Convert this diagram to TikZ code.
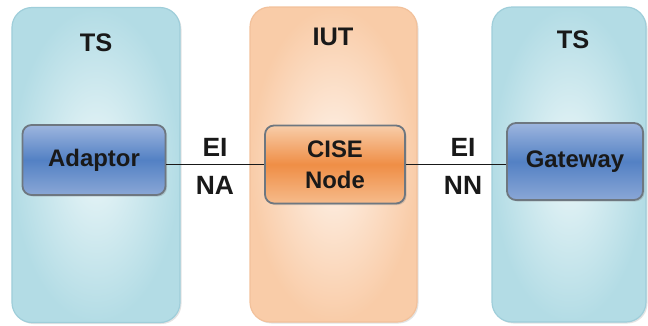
\documentclass[tikz,border=0pt]{standalone}
\usepackage{fontspec}
\setmainfont{Liberation Sans}
\usetikzlibrary{shadows}
\definecolor{tsin}{HTML}{EAF6F8}
\definecolor{tsout}{HTML}{B3DCE5}
\definecolor{tsedge}{HTML}{9FCEDA}
\definecolor{iutin}{HTML}{FEF3EA}
\definecolor{iutout}{HTML}{F9CCA8}
\definecolor{iutedge}{HTML}{F2C19B}
\definecolor{bltop}{HTML}{9DB5DE}
\definecolor{blmid}{HTML}{5381C4}
\definecolor{blbot}{HTML}{8AA7D6}
\definecolor{ortop}{HTML}{F8CDA9}
\definecolor{ormid}{HTML}{EF8E46}
\definecolor{orbot}{HTML}{F6BB8B}
\definecolor{boxedge}{HTML}{6E7780}
\tikzset{
  panel/.style={rounded corners=20bp, line width=1.2bp, minimum width=#1, minimum height=315bp,
    drop shadow={opacity=0.22, shadow xshift=1.5bp, shadow yshift=-1.5bp}},
  tspanel/.style={panel=#1, draw=tsedge, inner color=tsin, outer color=tsout},
  iutpanel/.style={panel=#1, draw=iutedge, inner color=iutin, outer color=iutout},
  unit/.style={rounded corners=9bp, line width=1.8bp, draw=boxedge, align=center,
    font=\fontsize{24}{31}\selectfont\bfseries, text=black!90,
    drop shadow={opacity=0.3, shadow xshift=1.5bp, shadow yshift=-1.5bp}},
  blueunit/.style={unit, top color=bltop, bottom color=blbot, middle color=blmid},
  orangeunit/.style={unit, top color=ortop, bottom color=orbot, middle color=ormid},
  heading/.style={font=\fontsize{25.5}{30}\selectfont\bfseries, text=black!90},
  iface/.style={font=\fontsize{26.5}{30}\selectfont\bfseries, text=black!90, inner sep=0pt},
  link/.style={line width=1.6bp, draw=black!90}
}
\begin{document}
\begin{tikzpicture}[x=1bp,y=-1bp]
\useasboundingbox (0,0) rectangle (648,325);
% containers
\node[tspanel=168bp] (tsl) at (96,165) {};
\node[iutpanel=167bp] (iut) at (333.5,164.5) {};
\node[tspanel=154bp] (tsr) at (569,164.5) {};
% container titles
\node[heading] (tslt) at (96,43) {TS};
\node[heading] (iutt) at (333,37) {IUT};
\node[heading] (tsrt) at (573,40) {TS};
% functional blocks
\node[blueunit, minimum width=143bp, minimum height=70bp] (ad) at (94,160) {Adaptor};
\node[orangeunit, minimum width=140bp, minimum height=78bp] (cise) at (335,164.5) {CISE\\Node};
\node[blueunit, minimum width=136bp, minimum height=77bp] (gw) at (575,161.5) {Gateway};
% reference points
\draw[link] (cise.west -| ad.east) -- (cise.west);
\draw[link] (cise.east) -- (cise.east -| gw.west);
\node[iface] (eil) at (215,147) {EI};
\node[iface] (na) at (215,185) {NA};
\node[iface] (eir) at (463,147) {EI};
\node[iface] (nn) at (463,185) {NN};
\end{tikzpicture}
\end{document}
